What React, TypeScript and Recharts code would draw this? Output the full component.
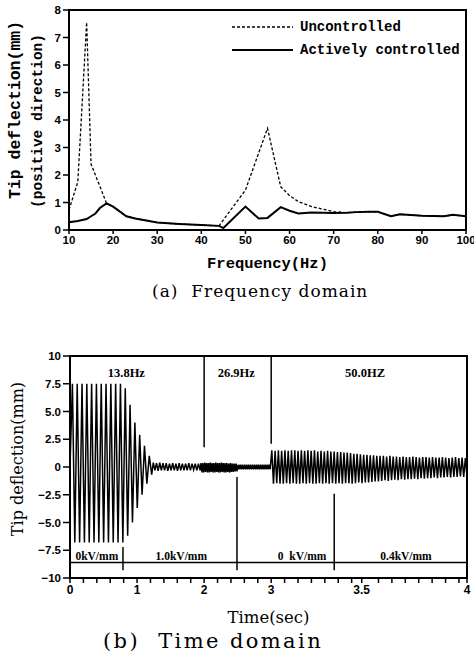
import React from 'react';
import { LineChart, Line, XAxis, YAxis, ReferenceArea, ReferenceLine, ReferenceDot, Legend, Label } from 'recharts';

// (a) frequency domain
const freqHz = [10, 12, 14, 15, 16, 17, 18.5, 20, 23, 25, 30, 35, 40, 44, 45, 50, 53, 55, 58, 60, 62, 65, 70, 73, 75, 78, 80, 83, 85, 90, 95, 97, 100];
const controlled = [0.28, 0.33, 0.4, 0.5, 0.6, 0.8, 0.97, 0.85, 0.5, 0.42, 0.27, 0.22, 0.18, 0.15, 0.07, 0.85, 0.42, 0.44, 0.83, 0.7, 0.6, 0.64, 0.62, 0.63, 0.65, 0.66, 0.66, 0.5, 0.57, 0.52, 0.5, 0.55, 0.5];
const uncontrolled = [0.73, 1.75, 7.55, 2.4, 1.99, 1.59, 0.97, 0.85, 0.5, 0.42, 0.27, 0.22, 0.18, 0.15, 0.37, 1.45, 2.8, 3.7, 1.57, 1.25, 1.03, 0.85, 0.67, 0.63, 0.65, 0.66, 0.66, 0.5, 0.57, 0.52, 0.5, 0.55, 0.5];
const freqTicks = [10, 20, 30, 40, 50, 60, 70, 80, 90, 100];
const deflTicks = [0, 1, 2, 3, 4, 5, 6, 7, 8];

// (b) time domain: extrema of each oscillation, read cycle by cycle
const burstPeaks = [7.5, 7.5, 7.5, 7.5, 7.5, 7.5, 7.5, 7.5, 7.5, 7.5, 7.5, 7.1, 5.6, 4.0, 2.9, 1.9, 1.0];
const burstTroughs = [-6.8, -6.8, -6.8, -6.8, -6.8, -6.8, -6.8, -6.8, -6.8, -6.8, -6.8, -6.2, -5.0, -3.7, -2.5, -1.5, -0.7];
const ripplePeaks = [0.4, 0.35, 0.4, 0.35, 0.35, 0.3, 0.35, 0.3, 0.35, 0.3, 0.3, 0.35, 0.3, 0.3, 0.3];
const rippleTroughs = [-0.3, -0.35, -0.3, -0.3, -0.35, -0.3, -0.3, -0.35, -0.3, -0.3, -0.3, -0.3, -0.25, -0.3, -0.3];
const mid1Peaks = [0.35, 0.35, 0.4, 0.35, 0.35, 0.4, 0.35, 0.35, 0.4, 0.35, 0.35, 0.4, 0.35, 0.35, 0.35, 0.3, 0.35, 0.3, 0.3, 0.3];
const mid1Troughs = [-0.5, -0.5, -0.45, -0.5, -0.5, -0.45, -0.5, -0.5, -0.45, -0.5, -0.5, -0.45, -0.5, -0.5, -0.45, -0.5, -0.45, -0.45, -0.4, -0.4];
const mid2Peaks = [0.2, 0.2, 0.2, 0.2, 0.2, 0.2, 0.2, 0.2, 0.2, 0.2, 0.2, 0.2, 0.2, 0.2, 0.2, 0.2];
const mid2Troughs = [-0.2, -0.2, -0.2, -0.2, -0.2, -0.2, -0.2, -0.2, -0.2, -0.2, -0.2, -0.2, -0.2, -0.2, -0.2, -0.2];
const highPeaks = [
  1.5, 1.45, 1.5, 1.45, 1.5, 1.45, 1.5, 1.5, 1.45, 1.5, 1.45, 1.5, 1.45, 1.5, 1.4, 1.45, 1.4, 1.45, 1.4, 1.4,
  1.35, 1.35, 1.3, 1.3, 1.25, 1.2, 1.2, 1.15, 1.1, 1.1, 1.05, 1.05, 1.0, 1.0, 1.0, 0.95, 1.0, 0.95, 0.95, 0.9,
  0.95, 0.9, 0.9, 0.95, 0.9, 0.85, 0.9, 0.9, 0.85, 0.9, 0.85, 0.85, 0.9, 0.85, 0.8, 0.85, 0.9, 0.8, 0.85, 0.8,
];
const highTroughs = [
  -1.5, -1.45, -1.5, -1.5, -1.45, -1.5, -1.45, -1.5, -1.5, -1.45, -1.5, -1.45, -1.5, -1.5, -1.45, -1.5, -1.45, -1.5, -1.45, -1.5,
  -1.45, -1.5, -1.45, -1.45, -1.5, -1.45, -1.4, -1.45, -1.4, -1.4, -1.35, -1.3, -1.3, -1.25, -1.2, -1.25, -1.2, -1.15, -1.2, -1.1,
  -1.15, -1.1, -1.1, -1.05, -1.1, -1.0, -1.05, -1.0, -1.0, -0.95, -1.0, -0.95, -0.95, -0.9, -0.95, -0.9, -0.9, -0.85, -0.9, -0.85,
];
// segment limits on the time axis
const segStart = [0, 1.218, 1.94, 2.49, 2.985];
const segEnd = [1.218, 1.94, 2.49, 2.985, 5.92];

const timeTickPos = [0, 1, 2, 3, 4.35, 5.92];
const timeTickLabels = ['0', '1', '2', '3', '3.5', '4'];
const timeYTicks = [-10, -7.5, -5, -2.5, 0, 2.5, 5, 7.5, 10];

const freqNotes = ['13.8Hz', '26.9Hz', '50.0HZ'];
const freqNoteT = [0.84, 2.48, 4.4];
const fieldNotes = ['0kV/mm', '1.0kV/mm', '0  kV/mm', '0.4kV/mm'];
const fieldNoteT = [0.4, 1.66, 3.46, 5.01];
const upperMarks = [{ t: 2.0, to: 1.77 }, { t: 3.0, to: 2.1 }];
const lowerMarks = [{ t: 0.79, from: -7.2 }, { t: 2.49, from: -0.9 }, { t: 3.94, from: -2.4 }];
const fieldLineLevel = -8.6;

const freqData = freqHz.map((f, i) => ({ f, u: uncontrolled[i], c: controlled[i] }));

const zip = (a: number[], b: number[]) => a.flatMap((v, i) => [v, b[i]]);
const segValues = [
  zip(burstPeaks, burstTroughs),
  zip(ripplePeaks, rippleTroughs),
  zip(mid1Peaks, mid1Troughs),
  zip(mid2Peaks, mid2Troughs),
  zip(highPeaks, highTroughs),
];
const timeData: { t: number; v: number }[] = [{ t: 0, v: 0 }];
segValues.forEach((vals, s) => {
  const step = (segEnd[s] - segStart[s]) / vals.length;
  vals.forEach((v, i) => timeData.push({ t: segStart[s] + (i + 1) * step, v }));
});

const minorTicks: number[] = [];
for (let k = 0; k <= 29; k++) {
  const p = +(k * 0.2).toFixed(1);
  if (timeTickPos.every((m) => Math.abs(m - p) > 0.1)) minorTicks.push(p);
}
const allTimeTicks = [...timeTickPos, ...minorTicks].sort((a, b) => a - b);

const tickFont = { fontSize: 11.5, fontWeight: 700, fill: '#000', fontFamily: '"Liberation Sans", Arial, sans-serif' };
const mono = '"Liberation Mono", "DejaVu Sans Mono", monospace';
const serif = '"DejaVu Serif", serif';

const FreqLegend = () => (
  <div style={{ fontFamily: mono, fontWeight: 700, fontSize: 14, color: '#000' }}>
    {[{ name: 'Uncontrolled', dash: '3 2', w: 1.3 }, { name: 'Actively controlled', dash: undefined, w: 2 }].map((it) => (
      <div key={it.name} style={{ display: 'flex', alignItems: 'center', height: 22.5 }}>
        <svg width={68} height={6}>
          <line x1={0} y1={3} x2={61} y2={3} stroke="#000" strokeWidth={it.w} strokeDasharray={it.dash} />
        </svg>
        <span style={{ whiteSpace: 'pre' }}>{it.name}</span>
      </div>
    ))}
  </div>
);

const YLabelTop = (props: any) => {
  const { viewBox } = props;
  const cy = viewBox.y + viewBox.height / 2;
  return (
    <g fontFamily={mono} fontWeight={700} fill="#000">
      <text x={15} y={cy - 10} fontSize={16.5} textAnchor="middle" dominantBaseline="central" transform={`rotate(-90 15 ${cy - 10})`}>
        Tip deflection(mm)
      </text>
      <text x={38} y={cy + 1} fontSize={14.5} textAnchor="middle" dominantBaseline="central" transform={`rotate(-90 38 ${cy + 1})`}>
        (positive direction)
      </text>
    </g>
  );
};

const YLabelBottom = (props: any) => {
  const { viewBox } = props;
  const cy = viewBox.y + viewBox.height / 2 - 8;
  return (
    <text x={17} y={cy} fontSize={16} fontFamily={serif} fill="#000" textAnchor="middle" dominantBaseline="central" transform={`rotate(-90 17 ${cy})`}>
      Tip deflection(mm)
    </text>
  );
};

const NoteLabel = (txt: string, size: number) => (props: any) => {
  const { viewBox } = props;
  return (
    <text x={viewBox.x + viewBox.width / 2} y={viewBox.y + viewBox.height / 2} textAnchor="middle" dominantBaseline="central"
      fontFamily='"Liberation Serif", serif' fontWeight={700} fontSize={size} fill="#000" style={{ whiteSpace: 'pre' }}>
      {txt}
    </text>
  );
};

export default function App() {
  return (
    <div style={{ position: 'absolute', left: 0, top: 0, width: 474, height: 656, background: '#fff' }}>
      <div style={{ position: 'absolute', left: 0, top: 0 }}>
        <LineChart width={474} height={276} data={freqData} margin={{ top: 10, right: 8, bottom: 0, left: 0 }}>
          <XAxis dataKey="f" type="number" domain={[10, 100]} ticks={freqTicks} interval={0} tick={tickFont} tickSize={4}
            axisLine={{ stroke: '#000', strokeWidth: 2 }} tickLine={{ stroke: '#000', strokeWidth: 1.5 }} height={46}>
            <Label value="Frequency(Hz)" position="insideBottom" offset={8} style={{ fontFamily: mono, fontWeight: 700, fontSize: 15.5, fill: '#000' }} />
          </XAxis>
          <YAxis type="number" domain={[0, 8]} ticks={deflTicks} interval={0} tick={tickFont} tickSize={6} width={69}
            axisLine={{ stroke: '#000', strokeWidth: 2 }} tickLine={{ stroke: '#000', strokeWidth: 1.5 }}>
            <Label content={<YLabelTop />} />
          </YAxis>
          <ReferenceArea x1={10} x2={100} y1={0} y2={8} fill="none" stroke="#000" strokeWidth={2} />
          <Legend layout="vertical" verticalAlign="middle" align="center" content={<FreqLegend />} wrapperStyle={{ left: 232, top: 16, width: 240, height: 45 }} />
          <Line dataKey="u" name="Uncontrolled" stroke="#000" strokeWidth={1.3} strokeDasharray="3 2" dot={false} isAnimationActive={false} />
          <Line dataKey="c" name="Actively controlled" stroke="#000" strokeWidth={2} dot={false} isAnimationActive={false} />
        </LineChart>
      </div>
      <div style={{ position: 'absolute', left: 152, top: 281, fontFamily: serif, fontSize: 17, letterSpacing: 1, whiteSpace: 'pre', color: '#000' }}>
        (a)  Frequency domain
      </div>

      <div style={{ position: 'absolute', left: 0, top: 340 }}>
        <LineChart width={474} height={292} data={timeData} margin={{ top: 16, right: 7, bottom: 0, left: 0 }}>
          <XAxis dataKey="t" type="number" domain={[0, 5.92]} ticks={allTimeTicks} interval={0} tickSize={5}
            tickFormatter={(v: number) => { const i = timeTickPos.indexOf(v); return i >= 0 ? timeTickLabels[i] : ''; }}
            tick={{ ...tickFont, fontSize: 12 }} axisLine={{ stroke: '#000', strokeWidth: 2 }} tickLine={{ stroke: '#000', strokeWidth: 1.5 }} height={54}>
            <Label value="Time(sec)" position="insideBottom" offset={9} style={{ fontFamily: serif, fontSize: 16.5, fill: '#000' }} />
          </XAxis>
          <YAxis type="number" domain={[-10, 10]} ticks={timeYTicks} interval={0} width={70} tickSize={7}
            tickFormatter={(v: number) => (v === 0 ? '0' : Math.abs(v) === 10 ? `${v < 0 ? '\u2212' : ''}10` : `${v < 0 ? '\u2212' : ''}${Math.abs(v).toFixed(1)}`)}
            tick={tickFont} axisLine={{ stroke: '#000', strokeWidth: 2 }} tickLine={{ stroke: '#000', strokeWidth: 1.5 }}>
            <Label content={<YLabelBottom />} />
          </YAxis>
          <ReferenceArea x1={0} x2={5.92} y1={-10} y2={10} fill="none" stroke="#000" strokeWidth={2} />
          <ReferenceLine y={fieldLineLevel} stroke="#000" strokeWidth={1.5} />
          {upperMarks.map((m) => (
            <ReferenceLine key={`u${m.t}`} segment={[{ x: m.t, y: 10 }, { x: m.t, y: m.to }]} stroke="#000" strokeWidth={1.5} />
          ))}
          {lowerMarks.map((m) => (
            <ReferenceLine key={`l${m.t}`} segment={[{ x: m.t, y: m.from }, { x: m.t, y: -9.3 }]} stroke="#000" strokeWidth={1.5} />
          ))}
          {freqNotes.map((n, i) => (
            <ReferenceDot key={n} x={freqNoteT[i]} y={8.45} r={0} fill="none" stroke="none" label={NoteLabel(n, 12.5)} />
          ))}
          {fieldNotes.map((n, i) => (
            <ReferenceDot key={n} x={fieldNoteT[i]} y={-8.05} r={0} fill="none" stroke="none" label={NoteLabel(n, 11.5)} />
          ))}
          <Line dataKey="v" stroke="#000" strokeWidth={1.5} dot={false} isAnimationActive={false} />
        </LineChart>
      </div>
      <div style={{ position: 'absolute', left: 103, top: 629, fontFamily: serif, fontSize: 21, letterSpacing: 2.4, whiteSpace: 'pre', color: '#000' }}>
        (b)  Time domain
      </div>
    </div>
  );
}
